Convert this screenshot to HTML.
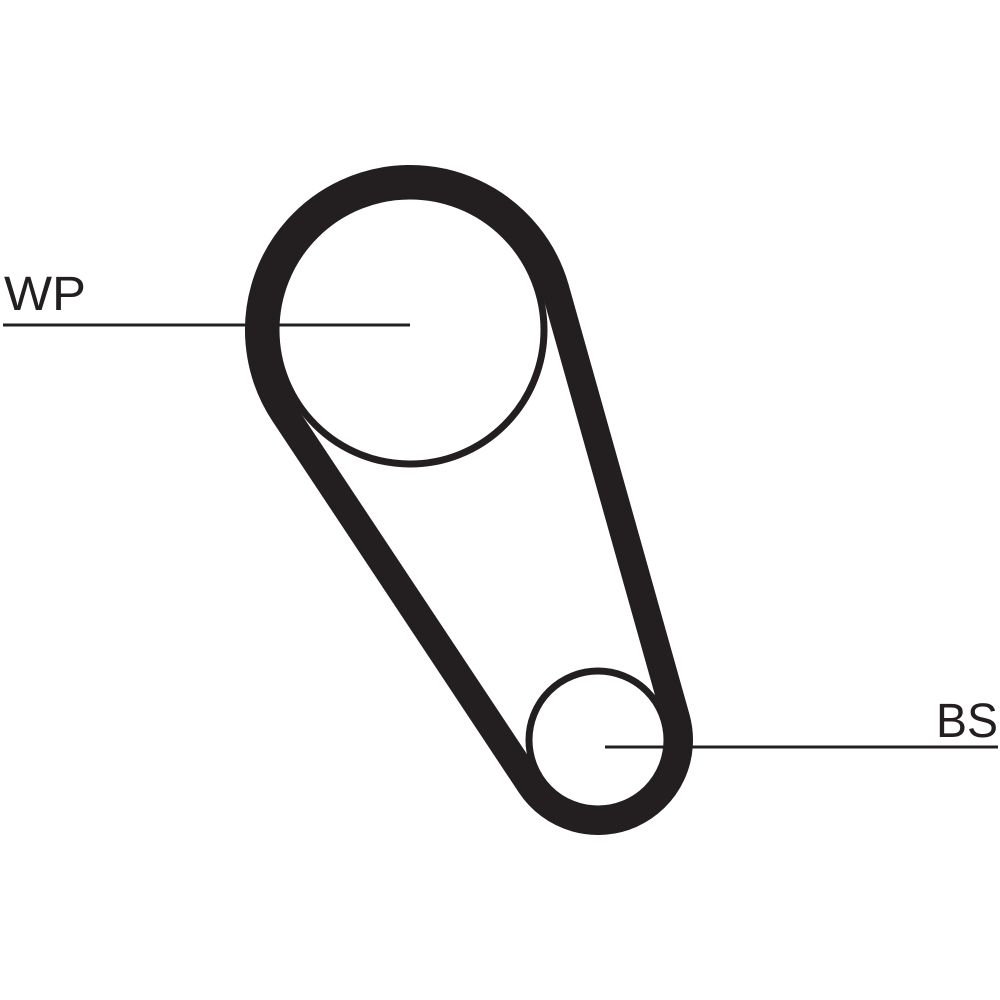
<!DOCTYPE html>
<html><head><style>
html,body{margin:0;padding:0;background:#fff;width:1000px;height:1000px;overflow:hidden}
svg{display:block}
text{font-family:"Liberation Sans",sans-serif;fill:#231f20}
</style></head><body>
<svg id="s" width="1000" height="1000" viewBox="0 0 1000 1000">
<circle cx="410" cy="330" r="134" fill="none" stroke="#231f20" stroke-width="7"/>
<circle cx="598" cy="740" r="69" fill="none" stroke="#231f20" stroke-width="7"/>
<path id="belt" fill="none" stroke="#231f20" stroke-width="28" stroke-linejoin="round"/>
<line x1="3" y1="325" x2="410" y2="325" stroke="#231f20" stroke-width="3"/>
<line x1="605" y1="747" x2="998" y2="747" stroke="#231f20" stroke-width="3"/>
<text x="4" y="310" font-size="48" textLength="82" lengthAdjust="spacingAndGlyphs">WP</text>
<text x="936" y="737" font-size="48" textLength="62" lengthAdjust="spacingAndGlyphs">BS</text>
</svg>
<script>
(function(){
var x1=410,y1=330,r1=151,x2=598,y2=740,r2=81;
var dx=x2-x1,dy=y2-y1,d=Math.hypot(dx,dy);
var a=Math.atan2(dy,dx),b=Math.acos((r1-r2)/d);
function p(x,y,r,t){return [x+r*Math.cos(t),y+r*Math.sin(t)];}
var t1=a+b,t2=a-b;
var A=p(x1,y1,r1,t1),B=p(x2,y2,r2,t1),C=p(x2,y2,r2,t2),D=p(x1,y1,r1,t2);
var s="M"+A+" L"+B+" A"+r2+" "+r2+" 0 0 0 "+C+" L"+D+" A"+r1+" "+r1+" 0 1 0 "+A+" Z";
document.getElementById("belt").setAttribute("d",s);
})();
</script>
</body></html>
